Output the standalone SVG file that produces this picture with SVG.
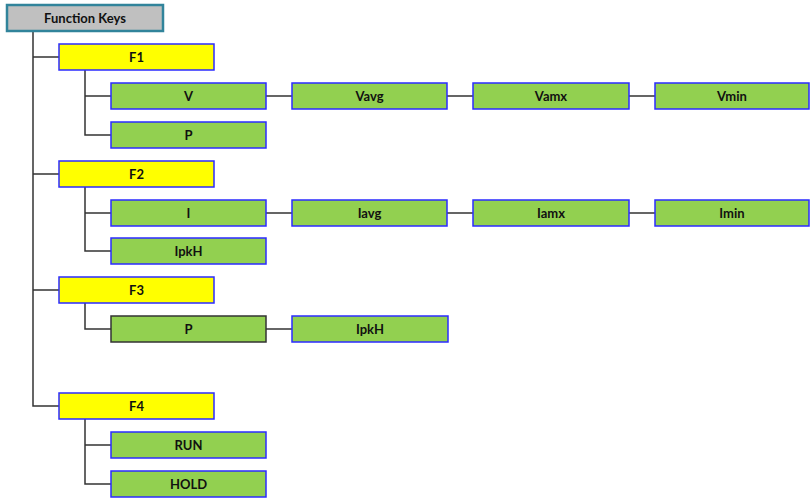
<svg xmlns="http://www.w3.org/2000/svg" width="810" height="498" viewBox="0 0 810 498">
<style>
.root{fill:#C0C0C0;stroke:#31849B;stroke-width:2.5}
.fk{fill:#FFFF00;stroke:#2B2BFF;stroke-width:1.5}
.lf{fill:#92D050;stroke:#2B2BFF;stroke-width:1.5}
.lfd{fill:#92D050;stroke:#333333;stroke-width:1.5}
text{font-family:Lato,"Open Sans","Liberation Sans",sans-serif;font-weight:bold;font-size:13px;fill:#111111;text-anchor:middle}
#connectors path{fill:none;stroke:#333333;stroke-width:1.5}
</style>
<rect width="810" height="498" fill="#FFFFFF"/>
<g id="connectors">
<path d="M33 32V406H59"/>
<path d="M33 57H59M33 174H59M33 290H59"/>
<path d="M85 70V135H111M85 96H111"/>
<path d="M266 96H292M447 96H473M629 96H655"/>
<path d="M85 187V251H111M85 213H111"/>
<path d="M266 213H292M447 213H473M629 213H655"/>
<path d="M85 303V329H111"/>
<path d="M266 329H292"/>
<path d="M85 419V484H111M85 445H111"/>
</g>
<g id="n-root"><rect class="root" x="7" y="5" width="156" height="26"/><text x="85" y="22.5">Function Keys</text></g>
<g id="n-F1"><rect class="fk" x="59" y="44" width="155" height="26"/><text x="136.5" y="61.5">F1</text></g>
<g id="n-V"><rect class="lf" x="111" y="83" width="155" height="26"/><text x="188.5" y="100.5">V</text></g>
<g id="n-Vavg"><rect class="lf" x="292" y="83" width="155" height="26"/><text x="369.5" y="100.5">Vavg</text></g>
<g id="n-Vamx"><rect class="lf" x="473" y="83" width="156" height="26"/><text x="551" y="100.5">Vamx</text></g>
<g id="n-Vmin"><rect class="lf" x="655" y="83" width="154" height="26"/><text x="732" y="100.5">Vmin</text></g>
<g id="n-P1"><rect class="lf" x="111" y="122" width="155" height="26"/><text x="188.5" y="139.5">P</text></g>
<g id="n-F2"><rect class="fk" x="59" y="161" width="155" height="26"/><text x="136.5" y="178.5">F2</text></g>
<g id="n-I"><rect class="lf" x="111" y="200" width="155" height="26"/><text x="188.5" y="217.5">I</text></g>
<g id="n-Iavg"><rect class="lf" x="292" y="200" width="155" height="26"/><text x="369.5" y="217.5">Iavg</text></g>
<g id="n-Iamx"><rect class="lf" x="473" y="200" width="156" height="26"/><text x="551" y="217.5">Iamx</text></g>
<g id="n-Imin"><rect class="lf" x="655" y="200" width="154" height="26"/><text x="732" y="217.5">Imin</text></g>
<g id="n-IpkH1"><rect class="lf" x="111" y="238" width="155" height="26"/><text x="188.5" y="255.5">IpkH</text></g>
<g id="n-F3"><rect class="fk" x="59" y="277" width="155" height="26"/><text x="136.5" y="294.5">F3</text></g>
<g id="n-P3"><rect class="lfd" x="111" y="316" width="155" height="26"/><text x="188.5" y="333.5">P</text></g>
<g id="n-IpkH3"><rect class="lf" x="292" y="316" width="156" height="26"/><text x="370" y="333.5">IpkH</text></g>
<g id="n-F4"><rect class="fk" x="59" y="393" width="155" height="26"/><text x="136.5" y="410.5">F4</text></g>
<g id="n-RUN"><rect class="lf" x="111" y="432" width="155" height="26"/><text x="188.5" y="449.5">RUN</text></g>
<g id="n-HOLD"><rect class="lf" x="111" y="471" width="155" height="26"/><text x="188.5" y="488.5">HOLD</text></g>
</svg>
